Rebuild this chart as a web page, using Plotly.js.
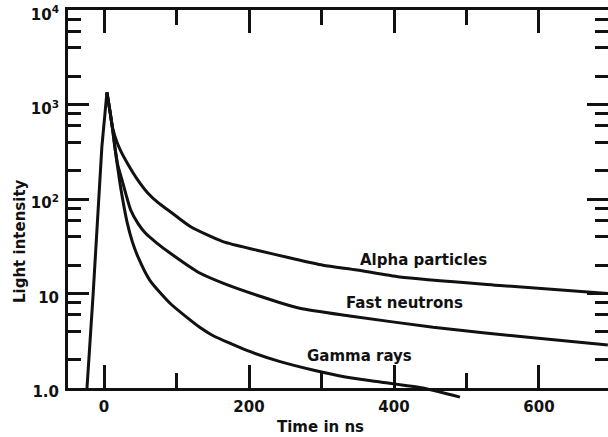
<!DOCTYPE html>
<html>
<head>
<meta charset="utf-8">
<script src="https://cdn.plot.ly/plotly-3.0.1.min.js"></script>
<style>
  html, body { margin: 0; padding: 0; background: #ffffff; }
  #chart { width: 608px; height: 437px; }
</style>
</head>
<body>
<div id="chart"></div>
<script>
// Scintillation pulse shapes: light intensity versus time (ns)

// Common rising edge up to the peak
const riseTime  = [-23.5, -15, -3, 4];
const riseValue = [1.0, 10, 355, 1350];

// Decay after the peak, one series per particle type
const alphaTime  = [4, 8, 12, 17, 23, 33, 45, 60, 75, 91, 119, 164, 211, 257, 302, 349, 408, 546, 695];
const alphaValue = [1350, 871, 562, 417, 324, 234, 166, 117, 91.2, 74.1, 51.3, 35.5, 28.8, 23.8, 20.0, 17.8, 15.0, 12.2, 10.0];

const neutronTime  = [4, 8, 12, 15, 19, 25, 31, 37, 47, 57, 72, 91, 132, 164, 211, 270, 339, 454, 592, 695];
const neutronValue = [1350, 871, 537, 355, 229, 158, 107, 75.9, 55.0, 43.7, 34.7, 26.9, 16.5, 12.9, 9.6, 7.0, 5.8, 4.4, 3.4, 2.85];

const gammaTime  = [4, 8, 12, 15, 18, 21, 25, 31.7, 39, 47, 63, 91, 132, 150, 197, 243, 288, 335, 381, 440, 491];
const gammaValue = [1350, 871, 537, 355, 240, 166, 107, 57.5, 35.5, 24.3, 13.9, 7.9, 4.4, 3.6, 2.5, 1.9, 1.55, 1.3, 1.16, 1.0, 0.8];

// Curve labels and where they sit
const curveLabels = ['Alpha particles', 'Fast neutrons', 'Gamma rays'];
const labelTime   = [441, 415, 353];
const labelValue  = [22.6, 7.9, 2.18];

// Axis ticks
const xTickVals  = [0, 200, 400, 600];
const xTickText  = ['0', '200', '400', '600'];
const xMinorVals = [100, 300, 500];
const yTickVals  = [1, 10, 100, 1000, 10000];
const yTickText  = ['1.0', '10', '10<sup>2</sup>', '10<sup>3</sup>', '10<sup>4</sup>'];
const yMinorVals = [2, 4, 6, 8, 20, 40, 60, 80, 200, 400, 600, 800, 2000, 4000, 6000, 8000];

const ink = '#111111';
const fontFamily = 'DejaVu Sans, Liberation Sans, sans-serif';

const X_RANGE = [-49.7, 695.2];
const Y_TOP = 4.003;            // log10 units
const Y_BELOW = -0.127;         // the gamma tail dips a little under 1.0
// framed axes start at 1.0; a hidden twin scale reaches below it
const frameBottom = -Y_BELOW / (Y_TOP - Y_BELOW);

function curve(name, x, y, shape, xa, ya) {
  return {
    type: 'scatter', mode: 'lines', name: name, x: x, y: y,
    xaxis: xa || 'x', yaxis: ya || 'y',
    line: { color: ink, width: 3, shape: shape, smoothing: 0.6 },
    hoverinfo: 'skip', showlegend: false
  };
}

const traces = [
  curve('Rise', riseTime, riseValue, 'linear'),
  curve(curveLabels[0], alphaTime, alphaValue, 'spline'),
  curve(curveLabels[1], neutronTime, neutronValue, 'spline'),
  curve(curveLabels[2], gammaTime, gammaValue, 'spline', 'x2', 'y2')
];

const labelFont = { family: fontFamily, size: 15, weight: 'bold', color: ink };

const annotations = curveLabels.map((t, i) => ({
  text: t, x: labelTime[i], y: Math.log10(labelValue[i]), xref: 'x', yref: 'y',
  showarrow: false, xanchor: 'center', yanchor: 'middle', font: labelFont
}));

// axis titles
annotations.push({
  text: 'Light intensity', textangle: -90, xref: 'paper', yref: 'paper',
  x: -0.0889, y: 0.4077, showarrow: false, xanchor: 'center', yanchor: 'middle', font: labelFont
});
annotations.push({
  text: 'Time in ns', xref: 'paper', yref: 'paper',
  x: 0.4685, y: -0.0692, showarrow: false, xanchor: 'center', yanchor: 'middle', font: labelFont
});

const tickFont = { family: fontFamily, size: 15, weight: 'bold', color: ink };

const layout = {
  width: 608, height: 437,
  margin: { l: 68, r: 0, t: 10, b: 37, pad: 0 },
  paper_bgcolor: '#ffffff', plot_bgcolor: 'rgba(0,0,0,0)',
  showlegend: false,
  font: { family: fontFamily, size: 15, color: ink },
  xaxis: {
    range: X_RANGE, anchor: 'y', domain: [0, 1],
    showline: true, linewidth: 3, linecolor: ink, mirror: 'ticks',
    showgrid: false, zeroline: false,
    ticks: 'inside', ticklen: 23, tickwidth: 3, tickcolor: ink,
    tickmode: 'array', tickvals: xTickVals, ticktext: xTickText,
    ticklabelstandoff: 3, tickfont: tickFont,
    minor: { tickmode: 'array', tickvals: xMinorVals, ticks: 'inside', ticklen: 15, tickwidth: 3, tickcolor: ink, showgrid: false }
  },
  yaxis: {
    type: 'log', range: [0, Y_TOP], anchor: 'x', domain: [frameBottom, 1],
    showline: true, linewidth: 3, linecolor: ink, mirror: 'ticks',
    showgrid: false, zeroline: false,
    ticks: 'inside', ticklen: 21, tickwidth: 3, tickcolor: ink,
    tickmode: 'array', tickvals: yTickVals, ticktext: yTickText,
    ticklabelstandoff: 3, ticklabelshift: 4, ticklabeloverflow: 'allow',
    tickfont: tickFont,
    minor: { tickmode: 'array', tickvals: yMinorVals, ticks: 'inside', ticklen: 13, tickwidth: 3, tickcolor: ink, showgrid: false }
  },
  // hidden twin scale: same time and intensity scale, reaching below 1.0
  xaxis2: { range: X_RANGE, anchor: 'y2', domain: [0, 1], visible: false },
  yaxis2: { type: 'log', range: [Y_BELOW, Y_TOP], anchor: 'x2', domain: [0, 1], visible: false },
  annotations: annotations
};

Plotly.newPlot('chart', traces, layout, { displayModeBar: false, staticPlot: true });
</script>
</body>
</html>
